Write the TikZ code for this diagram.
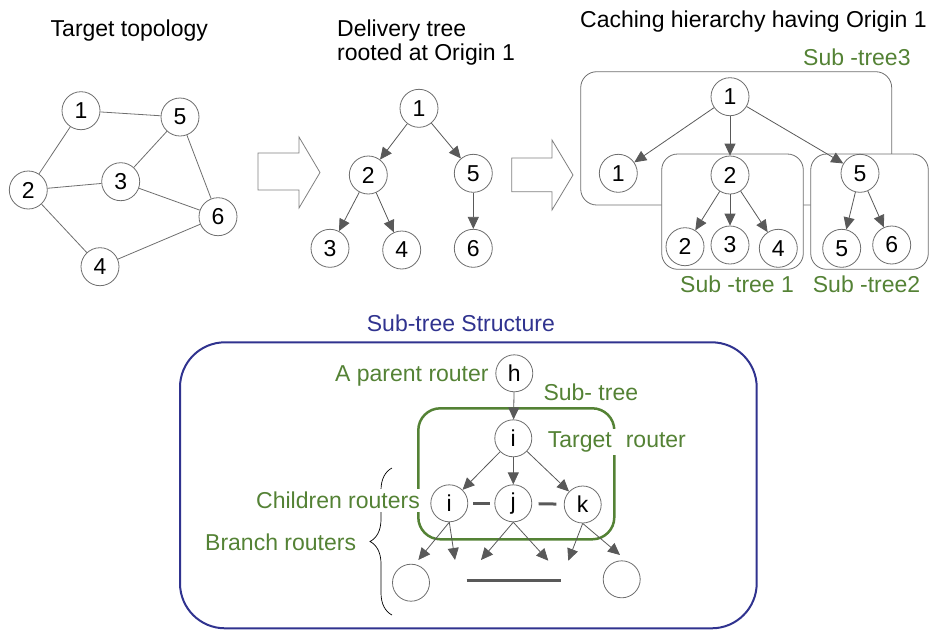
\documentclass[tikz,border=0pt]{standalone}
\usepackage{fontspec}
\setmainfont{Liberation Sans}
\usetikzlibrary{arrows.meta,decorations.pathreplacing}
\definecolor{edgegray}{HTML}{595959}
\definecolor{ringgray}{HTML}{6E6E6E}
\definecolor{leafgreen}{HTML}{548235}
\definecolor{navyblue}{HTML}{30338F}
\begin{document}
\begin{tikzpicture}[x=1pt,y=-1pt,
  every node/.style={font=\fontsize{23}{26}\selectfont},
  router/.style={circle, draw=ringgray, line width=0.8pt, fill=white,
    minimum size=38pt, inner sep=0pt},
  title/.style={inner sep=0pt, anchor=base west, text=black},
  greenlabel/.style={inner sep=0pt, anchor=base west, text=leafgreen},
  link/.style={draw=ringgray, line width=0.8pt},
  feed/.style={draw=edgegray, line width=0.8pt,
    -{Triangle[length=12pt,width=11pt]}},
  groupbox/.style={draw=ringgray, line width=0.8pt, rounded corners=16pt},
  blockarrow/.style={draw=gray, line width=0.8pt, fill=white},
  gapbar/.style={draw=edgegray, line width=3pt}]

\useasboundingbox (0,0) rectangle (935,630);

% ---------- headings ----------
\node[title] (hTopo) at (50.5,36.7) {Target topology};
\node[title] (hDel1) at (337,36) {Delivery tree};
\node[title] (hDel2) at (337,60) {rooted at Origin 1};
\node[title] (hCache) at (580,27) {Caching hierarchy having Origin 1};

% ---------- target topology ----------
\node[router] (t1) at (81,110.7) {1};
\node[router] (t5) at (180,117) {5};
\node[router] (t2) at (28.3,190) {2};
\node[router] (t3) at (120.7,181.7) {3};
\node[router] (t6) at (218,216.7) {6};
\node[router] (t4) at (100,266.7) {4};
\draw[link] (t1) -- (t5);
\draw[link] (t1) -- (t2);
\draw[link] (t2) -- (t3);
\draw[link] (t2) -- (t4);
\draw[link] (t3) -- (t5);
\draw[link] (t3) -- (t6);
\draw[link] (t5) -- (t6);
\draw[link] (t4) -- (t6);

% ---------- block arrows ----------
\draw[blockarrow] (258,153) -- (299,153) -- (299,137) -- (320,172.5)
  -- (299,208) -- (299,190) -- (258,190) -- cycle;
\draw[blockarrow] (511.7,158) -- (552,158) -- (552,140) -- (573,175)
  -- (552,210) -- (552,191.7) -- (511.7,191.7) -- cycle;

% ---------- delivery tree ----------
\node[router] (d1) at (419,108.3) {1};
\node[router] (d2) at (368.3,175) {2};
\node[router] (d5) at (473.3,173.3) {5};
\node[router] (d3) at (330,248.3) {3};
\node[router] (d4) at (401.7,250) {4};
\node[router] (d6) at (473.3,248.3) {6};
\draw[feed] (d1) -- (d2);
\draw[feed] (d1) -- (d5);
\draw[feed] (d2) -- (d3);
\draw[feed] (d2) -- (d4);
\draw[feed] (d5) -- (d6);

% ---------- caching hierarchy ----------
\draw[groupbox] (580.7,71.7) rectangle (891.7,205);
\draw[groupbox, fill=white] (661.7,154) rectangle (803.3,269.3);
\draw[groupbox, fill=white] (810.7,154) rectangle (928.3,269.3);
\node[greenlabel] (lSt3) at (803,65) {Sub -tree3};
\node[greenlabel] (lSt1) at (680,292.3) {Sub -tree 1};
\node[greenlabel] (lSt2) at (812.7,292.3) {Sub -tree2};

\node[router] (c1) at (730,96.7) {1};
\node[router] (c1b) at (618.3,173.3) {1};
\node[router] (c2) at (730,175) {2};
\node[router] (c5) at (860,173.3) {5};
\node[router] (c2b) at (685,246.7) {2};
\node[router] (c3) at (730,245) {3};
\node[router] (c4) at (778.3,248.3) {4};
\node[router] (c5b) at (841.7,248.3) {5};
\node[router] (c6) at (891.7,245) {6};
\draw[feed] (c1) -- (c1b);
\draw[feed] (c1) -- (c2);
\draw[feed] (c1) -- (c5);
\draw[feed] (c2) -- (c2b);
\draw[feed] (c2) -- (c3);
\draw[feed] (c2) -- (c4);
\draw[feed] (c5) -- (c5b);
\draw[feed] (c5) -- (c6);

% ---------- sub-tree structure ----------
\node[inner sep=0pt, anchor=base west, text=navyblue] (lStruct) at (366.7,331.7)
  {Sub-tree Structure};
\draw[navyblue, line width=2pt, rounded corners=45pt] (180,342.3) rectangle (756.7,628.3);
\draw[leafgreen, line width=2.5pt, rounded corners=22pt] (418.3,408.3) rectangle (614.3,539.3);

% brace grouping the children and branch routers
\draw[black, line width=0.7pt, decorate, decoration={brace, amplitude=22pt}]
  (392,615) -- (392,468);

\node[greenlabel] (lParent) at (335,381) {A parent router};
\node[greenlabel] (lSub) at (543.3,400.7) {Sub- tree};
\node[greenlabel, fill=white, inner ysep=3pt] (lTarget) at (547.7,447.7)
  {Target\hspace{14pt}router};
\node[greenlabel, fill=white, inner ysep=3pt] (lChildren) at (256,508.3)
  {Children routers};
\node[greenlabel] (lBranch) at (205,550.7) {Branch routers};

\node[router, minimum size=37pt] (h) at (514.3,373.3) {h};
\node[router, minimum size=37pt] (ti) at (513.3,438.3) {i};
\node[router, minimum size=37pt] (ci) at (449.3,503.3) {i};
\node[router, minimum size=37pt] (cj) at (513.3,503.3) {j};
\node[router, minimum size=37pt] (ck) at (582.7,504.5) {k};
\node[router, minimum size=37pt] (bl) at (411,582.7) {};
\node[router, minimum size=37pt] (br) at (621.7,579.3) {};

\coordinate (a1) at (418.3,560);
\coordinate (a2) at (455,560);
\coordinate (a3) at (481,560);
\coordinate (a4) at (548.3,560.7);
\coordinate (a5) at (568.3,560.7);
\coordinate (a6) at (620,555);

\draw[feed] (h) -- (ti);
\draw[feed] (ti) -- (ci);
\draw[feed] (ti) -- (cj);
\draw[feed] (ti) -- (ck);
\draw[feed] (ci.south) -- (a1);
\draw[feed] (ci.south) -- (a2);
\draw[feed] (cj.south) -- (a3);
\draw[feed] (cj.south) -- (a4);
\draw[feed] (ck.south) -- (a5);
\draw[feed] (ck.south) -- (a6);

\draw[gapbar, shorten <=5pt, shorten >=4pt] (ci) -- (cj);
\draw[gapbar, shorten <=6.5pt, shorten >=7.5pt] (cj) -- (ck);
\draw[gapbar] (466.7,580) -- (561,580);
\end{tikzpicture}
\end{document}
